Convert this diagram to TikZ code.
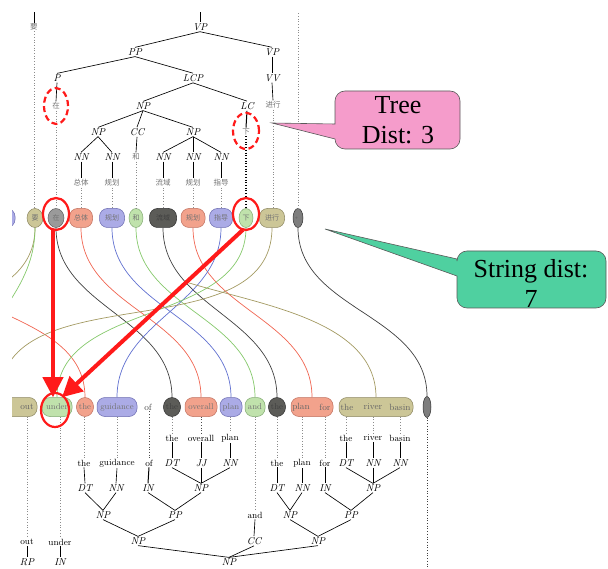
\documentclass[tikz,border=0pt]{standalone}
\usepackage{fontspec}
\usetikzlibrary{arrows.meta,shapes.geometric}
\newfontfamily\cjk{Noto Sans CJK SC}
\newfontfamily\callfont{Liberation Serif}

\definecolor{khakiF}{HTML}{CCC697}
\definecolor{khakiD}{HTML}{8C8660}
\definecolor{khakiL}{HTML}{A39A62}
\definecolor{grayF}{HTML}{9A9A9A}
\definecolor{grayD}{HTML}{5E5E5E}
\definecolor{salF}{HTML}{F2A28C}
\definecolor{salD}{HTML}{C0705E}
\definecolor{salL}{HTML}{F06450}
\definecolor{bluF}{HTML}{ABABE6}
\definecolor{bluD}{HTML}{6B6BB0}
\definecolor{bluL}{HTML}{6070D0}
\definecolor{grnF}{HTML}{C0E2AC}
\definecolor{grnD}{HTML}{80A870}
\definecolor{grnL}{HTML}{84C86A}
\definecolor{drkF}{HTML}{5C5C58}
\definecolor{drkD}{HTML}{303030}
\definecolor{drkL}{HTML}{404040}
\definecolor{pinkF}{HTML}{F59CCB}
\definecolor{mintF}{HTML}{4FD0A0}
\definecolor{hilite}{HTML}{FF1A1A}

\pgfdeclarelayer{wires}
\pgfsetlayers{wires,main}

\tikzset{
  lab/.style={font=\itshape\fontsize{10}{10}\selectfont, inner sep=1pt},
  zh/.style={font=\cjk\fontsize{7.5}{8}\selectfont, text=black!55, inner sep=1pt},
  en/.style={font=\fontsize{9}{9}\selectfont, inner sep=1pt},
  pill/.style={rectangle, rounded corners=8pt, line width=0.5pt, minimum height=19pt,
               inner sep=1pt, font=\fontsize{8.5}{9}\selectfont, text=black!55},
  zpill/.style={pill, font=\cjk\fontsize{7}{8}\selectfont},
  bead/.style={ellipse, line width=0.5pt, minimum height=19pt, inner sep=0pt,
               font=\fontsize{8.5}{9}\selectfont, text=black!55},
  zbead/.style={bead, font=\cjk\fontsize{7}{8}\selectfont},
  treeline/.style={line width=0.65pt, black},
  dotguide/.style={line width=0.7pt, dotted, black!45},
  wire/.style={line width=0.7pt},
  hidash/.style={hilite, line width=2.2pt, dash pattern=on 6pt off 3.5pt},
  hiring/.style={hilite, line width=2.2pt},
  hiarrow/.style={hilite, line width=4pt, -{Triangle[length=20pt,width=20pt]}},
  callout/.style={draw=black!65, line width=0.6pt},
  calltext/.style={font=\callfont\fontsize{26}{30}\selectfont, align=center, inner sep=0pt}
}

\begin{document}
\begin{tikzpicture}[x=1pt,y=-1pt]
\useasboundingbox (0,0) rectangle (608,569);

% ---------- source tree ----------
\node[lab] (vp0) at (200,27) {VP};
\node[zh]  (yao) at (34,27) {要};
\node[lab] (pp)  at (135,52) {PP};
\node[lab] (vp1) at (272,52) {VP};
\node[lab] (p)   at (57,78) {P};
\node[lab] (lcp) at (193,78) {LCP};
\node[lab] (vv)  at (272,78) {VV};
\node[zh]  (zai) at (56,106) {在};
\node[lab] (np1) at (143,106) {NP};
\node[lab] (lc)  at (247,106) {LC};
\node[zh]  (jinxing) at (273,105) {进行};
\node[lab] (np2) at (98,132) {NP};
\node[lab] (cc)  at (137,132) {CC};
\node[lab] (np3) at (193,132) {NP};
\node[zh]  (xia) at (246,132) {下};
\node[lab] (nn1) at (81,157) {NN};
\node[lab] (nn2) at (112,157) {NN};
\node[zh]  (he)  at (136,157) {和};
\node[lab] (nn3) at (163,157) {NN};
\node[lab] (nn4) at (193,157) {NN};
\node[lab] (nn5) at (221,157) {NN};
\node[zh]  (zongti)  at (81,183) {总体};
\node[zh]  (guihuaA) at (112,183) {规划};
\node[zh]  (liuyu)   at (163,183) {流域};
\node[zh]  (guihuaB) at (193,183) {规划};
\node[zh]  (zhidao)  at (221,183) {指导};
\coordinate (vpstub)  at (200,8);
\coordinate (yaostub) at (34,8);
\coordinate (ptstub)  at (298,8);

\draw[treeline] (vpstub) -- (vp0.north);
\draw[treeline] (yaostub) -- (yao.north);
\draw[treeline] (vp0.south) -- (pp.north);
\draw[treeline] (vp0.south) -- (vp1.north);
\draw[treeline] (pp.south) -- (p.north);
\draw[treeline] (pp.south) -- (lcp.north);
\draw[treeline] (vp1.south) -- (vv.north);
\draw[treeline] (vv.south) -- (jinxing.north);
\draw[treeline] (p.south) -- (zai.north);
\draw[treeline] (lcp.south) -- (np1.north);
\draw[treeline] (lcp.south) -- (lc.north);
\draw[treeline, line width=1pt] (lc.south) -- (xia.north);
\draw[treeline] (np1.south) -- (np2.north);
\draw[treeline] (np1.south) -- (cc.north);
\draw[treeline] (np1.south) -- (np3.north);
\draw[treeline] (np2.south) -- (nn1.north);
\draw[treeline] (np2.south) -- (nn2.north);
\draw[treeline] (cc.south) -- (he.north);
\draw[treeline] (np3.south) -- (nn3.north);
\draw[treeline] (np3.south) -- (nn4.north);
\draw[treeline] (np3.south) -- (nn5.north);
\draw[treeline] (nn1.south) -- (zongti.north);
\draw[treeline] (nn2.south) -- (guihuaA.north);
\draw[treeline, line width=1pt] (nn3.south) -- (liuyu.north);
\draw[treeline] (nn4.south) -- (guihuaB.north);
\draw[treeline, line width=1pt] (nn5.south) -- (zhidao.north);

% ---------- source word bubbles ----------
\node[zpill, fill=bluF, draw=bluD, minimum width=30pt] (t0) at (0,218) {};
\node[zbead, fill=khakiF, draw=khakiD, minimum width=16pt] (t1) at (35,218) {要};
\node[zbead, fill=grayF, draw=grayD, minimum width=16pt] (t2) at (56,218) {在};
\node[zpill, fill=salF, draw=salD, minimum width=23pt] (t3) at (81,218) {总体};
\node[zpill, fill=bluF, draw=bluD, minimum width=25pt] (t4) at (112,218) {规划};
\node[zbead, fill=grnF, draw=grnD, minimum width=14pt] (t5) at (136,218) {和};
\node[zpill, fill=drkF, draw=drkD, minimum width=27pt, text=black!75] (t6) at (163,218) {流域};
\node[zpill, fill=salF, draw=salD, minimum width=24pt] (t7) at (193,218) {规划};
\node[zpill, fill=bluF, draw=bluD, minimum width=23pt] (t8) at (221,218) {指导};
\node[zbead, fill=grnF, draw=grnD, minimum width=14pt] (t9) at (246,218) {下};
\node[zpill, fill=khakiF, draw=khakiD, minimum width=25pt] (t10) at (272,218) {进行};
\node[zbead, fill=grayD!80, draw=drkD, minimum width=10pt, text=black!70,
      font=\cjk\fontsize{5}{5}\selectfont] (t11) at (298,218) {。};

\draw[dotguide] (yao.south) -- (yao.south |- t1.north);
\draw[dotguide] (zai.south) -- (zai.south |- t2.north);
\draw[dotguide] (zongti.south) -- (zongti.south |- t3.north);
\draw[dotguide] (guihuaA.south) -- (guihuaA.south |- t4.north);
\draw[dotguide] (he.south) -- (he.south |- t5.north);
\draw[dotguide] (liuyu.south) -- (liuyu.south |- t6.north);
\draw[dotguide] (guihuaB.south) -- (guihuaB.south |- t7.north);
\draw[dotguide] (zhidao.south) -- (zhidao.south |- t8.north);
\draw[dotguide, black, line width=1.1pt] (xia.south) -- (xia.south |- t9.north);
\draw[dotguide] (jinxing.south) -- (jinxing.south |- t10.north);
\draw[dotguide] (ptstub) -- (t11.north);

% ---------- target word bubbles ----------
\node[pill, fill=khakiF, draw=khakiD, minimum width=74pt] (b1) at (0,407) {};
\node[en, text=black!60] (wout) at (27,407) {out};
\node[pill, fill=grnF, draw=grnD, minimum width=30pt] (b2) at (57,407) {under};
\node[bead, fill=salF, draw=salD, minimum width=17pt] (b3) at (85,407) {the};
\node[pill, fill=bluF, draw=bluD, minimum width=40pt] (b4) at (117,407) {guidance};
\node[en, text=black!70] (bof) at (148,407) {of};
\node[bead, fill=drkF, draw=drkD, minimum width=17pt, text=black!75] (b5) at (172,407) {the};
\node[pill, fill=salF, draw=salD, minimum width=32pt] (b6) at (201,407) {overall};
\node[pill, fill=bluF, draw=bluD, minimum width=22pt] (b7) at (231,407) {plan};
\node[pill, fill=grnF, draw=grnD, minimum width=20pt] (b8) at (255,407) {and};
\node[bead, fill=drkF, draw=drkD, minimum width=17pt, text=black!75] (b9) at (277,407) {the};
\node[pill, fill=salF, draw=salD, minimum width=42pt] (b10) at (312,407) {};
\node[en, text=black!60] (bplan) at (301,407) {plan};
\node[en, text=black!60] (bfor)  at (325,407) {for};
\node[pill, fill=khakiF, draw=khakiD, minimum width=74pt] (b11) at (376,407) {};
\node[en, text=black!60] (bthe)   at (347,407) {the};
\node[en, text=black!60] (briver) at (373,407) {river};
\node[en, text=black!60] (bbasin) at (400,407) {basin};
\node[bead, fill=grayD!80, draw=drkD, minimum width=8pt, minimum height=21pt] (b12) at (427,407) {};
\coordinate (ptend) at (427,575);

% ---------- target tree ----------
\node[en] (e1)  at (172,438) {the};
\node[en] (e2)  at (201,438) {overall};
\node[en] (e3)  at (230,438) {plan};
\node[en] (e4)  at (346,438) {the};
\node[en] (e5)  at (373,438) {river};
\node[en] (e6)  at (400,438) {basin};
\node[en] (f1)  at (84,463) {the};
\node[en] (f2)  at (117,463) {guidance};
\node[en] (f3)  at (149,463) {of};
\node[lab] (f4) at (172,463) {DT};
\node[lab] (f5) at (201,463) {JJ};
\node[lab] (f6) at (230,463) {NN};
\node[en] (f7)  at (277,463) {the};
\node[en] (f8)  at (302,463) {plan};
\node[en] (f9)  at (325,463) {for};
\node[lab] (f10) at (346,463) {DT};
\node[lab] (f11) at (373,463) {NN};
\node[lab] (f12) at (400,463) {NN};
\node[lab] (g1) at (85,488) {DT};
\node[lab] (g2) at (116,488) {NN};
\node[lab] (g3) at (148,488) {IN};
\node[lab] (g4) at (201,488) {NP};
\node[lab] (g5) at (277,488) {DT};
\node[lab] (g6) at (302,488) {NN};
\node[lab] (g7) at (325,488) {IN};
\node[lab] (g8) at (373,488) {NP};
\node[lab] (h1) at (103,515) {NP};
\node[lab] (h2) at (175,515) {PP};
\node[en]  (h3) at (255,515) {and};
\node[lab] (h4) at (290,515) {NP};
\node[lab] (h5) at (351,515) {PP};
\node[lab] (i1) at (138,541) {NP};
\node[lab] (i2) at (254,541) {CC};
\node[lab] (i3) at (318,541) {NP};
\node[en]  (i4) at (27,542) {out};
\node[en]  (i5) at (60,542) {under};
\node[lab] (j1) at (229,562) {NP};
\node[lab] (j2) at (27,562) {RP};
\node[lab] (j3) at (60,562) {IN};

\draw[dotguide] (i4.north |- b1.south) -- (i4.north);
\draw[dotguide] (i5.north |- b2.south) -- (i5.north);
\draw[dotguide] (f1.north |- b3.south) -- (f1.north);
\draw[dotguide] (f2.north |- b4.south) -- (f2.north);
\draw[dotguide, black!70] (f3.north |- bof.south) -- (f3.north);
\draw[dotguide] (e1.north |- b5.south) -- (e1.north);
\draw[dotguide, black!70] (e2.north |- b6.south) -- (e2.north);
\draw[dotguide] (e3.north |- b7.south) -- (e3.north);
\draw[dotguide] (h3.north |- b8.south) -- (h3.north);
\draw[dotguide] (f7.north |- b9.south) -- (f7.north);
\draw[dotguide] (f8.north |- b10.south) -- (f8.north);
\draw[dotguide] (f9.north |- b10.south) -- (f9.north);
\draw[dotguide] (e4.north |- b11.south) -- (e4.north);
\draw[dotguide] (e5.north |- b11.south) -- (e5.north);
\draw[dotguide] (e6.north |- b11.south) -- (e6.north);
\draw[dotguide, black!75, line width=1pt] (b12.south) -- (ptend);

\draw[treeline] (e1.south) -- (f4.north);
\draw[treeline, line width=1pt] (e2.south) -- (f5.north);
\draw[treeline] (e3.south) -- (f6.north);
\draw[treeline] (e4.south) -- (f10.north);
\draw[treeline] (e5.south) -- (f11.north);
\draw[treeline] (e6.south) -- (f12.north);
\draw[treeline] (f1.south) -- (g1.north);
\draw[treeline] (f2.south) -- (g2.north);
\draw[treeline, line width=1pt] (f3.south) -- (g3.north);
\draw[treeline] (f4.south) -- (g4.north);
\draw[treeline] (f5.south) -- (g4.north);
\draw[treeline] (f6.south) -- (g4.north);
\draw[treeline] (f7.south) -- (g5.north);
\draw[treeline] (f8.south) -- (g6.north);
\draw[treeline] (f9.south) -- (g7.north);
\draw[treeline] (f10.south) -- (g8.north);
\draw[treeline] (f11.south) -- (g8.north);
\draw[treeline] (f12.south) -- (g8.north);
\draw[treeline] (g1.south) -- (h1.north);
\draw[treeline] (g2.south) -- (h1.north);
\draw[treeline] (g3.south) -- (h2.north);
\draw[treeline] (g4.south) -- (h2.north);
\draw[treeline] (g5.south) -- (h4.north);
\draw[treeline] (g6.south) -- (h4.north);
\draw[treeline] (g7.south) -- (h5.north);
\draw[treeline] (g8.south) -- (h5.north);
\draw[treeline] (h1.south) -- (i1.north);
\draw[treeline] (h2.south) -- (i1.north);
\draw[treeline] (h3.south) -- (i2.north);
\draw[treeline] (h4.south) -- (i3.north);
\draw[treeline] (h5.south) -- (i3.north);
\draw[treeline] (i1.south) -- (j1.north);
\draw[treeline] (i2.south) -- (j1.north);
\draw[treeline] (i3.south) -- (j1.north);
\draw[treeline, line width=1pt] (i4.south) -- (j2.north);
\draw[treeline] (i5.south) -- (j3.north);

% ---------- alignment links ----------
\coordinate (offA) at (-150,397);
\coordinate (offB) at (-30,397);
\coordinate (offC) at (-80,228);
\coordinate (offD) at (186,282);
\begin{pgfonlayer}{wires}
\draw[wire, khakiL] (t1.south) .. controls +(0,98) and +(0,-98) .. (offA);
\draw[wire, grnL] (t1.south) .. controls +(0,71) and +(0,-71) .. (offB);
\draw[wire, salL] (offC) .. controls +(0,92) and +(0,-92) .. (b3.north);
\draw[wire, drkL] (t2.south) .. controls +(0,80) and +(0,-80) .. (b5.north);
\draw[wire, salL] (t3.south) .. controls +(0,81) and +(0,-81) .. (b6.north);
\draw[wire, bluL] (t4.south) .. controls +(0,81) and +(0,-81) .. (b7.north);
\draw[wire, grnL] (t5.south) .. controls +(0,81) and +(0,-81) .. (b8.north);
\draw[wire, drkL] (t6.south) .. controls +(0,80) and +(0,-80) .. (b9.north);
\draw[wire, salL] (t7.south) .. controls +(0,81) and +(0,-81) .. (b10.north);
\draw[wire, bluL] (t8.south) .. controls +(0,77) and +(0,-77) .. (b4.north);
\draw[wire, grnL] (t9.south) .. controls +(0,98) and +(0,-98) .. (b2.north);
\draw[wire, khakiL] (t10.south) .. controls +(0,125) and +(0,-125) .. (b1.north);
\draw[wire, drkL] (t11.south) .. controls +(0,83) and +(0,-83) .. (b12.north);
\draw[wire, khakiL] (offD) .. controls (260,305) and (376,320) .. (b11.north);
\end{pgfonlayer}

% ---------- highlights ----------
\draw[hidash] (zai.center) ellipse [x radius=12pt, y radius=18pt];
\draw[hidash] ([yshift=1pt]xia.center) ellipse [x radius=13pt, y radius=18pt];
\draw[hiring] ([yshift=4pt]t2.center) ellipse [x radius=13pt, y radius=16pt];
\draw[hiring] ([yshift=4pt]t9.center) ellipse [x radius=13pt, y radius=16pt];
\draw[hiring] ([xshift=-2pt,yshift=-3pt]b2.center) ellipse [x radius=14pt, y radius=17pt];
\draw[hiarrow] ([xshift=-3pt,yshift=-2pt]t2.south) -- ([xshift=-4pt]b2.north);
\draw[hiarrow] ([xshift=-3pt,yshift=-2pt]t9.south) -- ([xshift=5pt]b2.north);

% ---------- callouts ----------
\draw[callout, fill=pinkF] (272,123) -- (335,124) [rounded corners=10pt] -- (335,91) -- (460,91)
  -- (460,149) -- (335,149) [sharp corners] -- (335,139) -- cycle;
\node[calltext] (treetxt) at (398,120) {Tree\\Dist: 3};
\draw[callout, fill=mintF] (325,229) -- (457,259) [rounded corners=10pt] -- (457,251) -- (606,251)
  -- (606,308) -- (457,308) [sharp corners] -- (457,276) -- cycle;
\node[calltext] (strtxt) at (531,283) {String dist:\\7};

% ---------- page margins ----------
\fill[white] (0,0) rectangle (12,569);
\fill[white] (0,0) rectangle (608,12);
\end{tikzpicture}
\end{document}
